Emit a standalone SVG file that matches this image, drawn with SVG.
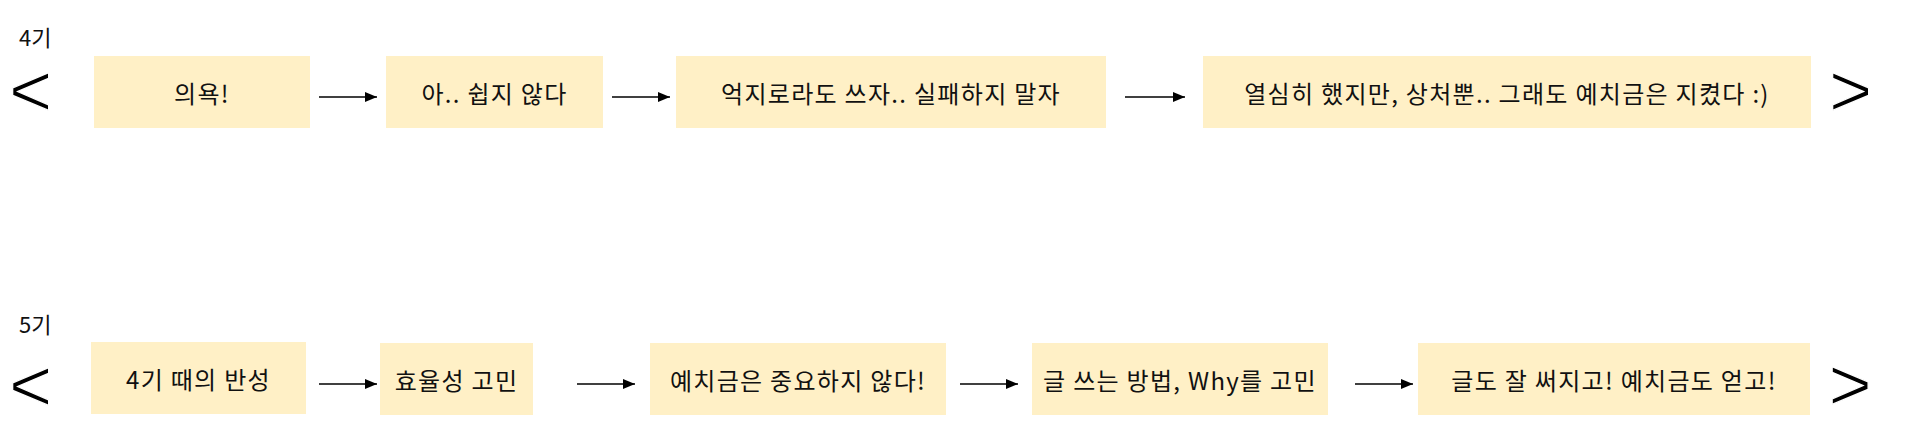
<svg xmlns="http://www.w3.org/2000/svg" width="1906" height="445" viewBox="0 0 1906 445">
<style>
.box{fill:#FFF0C6;}
.t{font-family:"Noto Sans CJK KR","Noto Sans",sans-serif;font-size:24px;letter-spacing:1.3px;fill:#111;text-anchor:middle;dominant-baseline:central;}
.lab{font-family:"Noto Sans CJK KR","Noto Sans",sans-serif;font-size:22px;fill:#111;}
.br{font-family:"Liberation Sans","Noto Sans",sans-serif;font-size:74px;fill:#000;stroke:#fff;stroke-width:1.2px;text-anchor:middle;}
.c{stroke:#000;stroke-width:1.7;fill:none;marker-end:url(#ah);}
</style>
<defs>
<marker id="ah" markerWidth="12" markerHeight="10" refX="12" refY="5" orient="auto" markerUnits="userSpaceOnUse">
<path d="M0,0 L12,5 L0,10 Z" fill="#000"/>
</marker>
</defs>
<g id="labels">
<text class="lab" x="19" y="46">4기</text>
<text class="lab" x="19" y="333">5기</text>
</g>
<g id="brackets">
<text class="br" x="30.5" y="116">&lt;</text>
<text class="br" x="1850.5" y="116">&gt;</text>
<text class="br" x="30.5" y="411">&lt;</text>
<text class="br" x="1850" y="410">&gt;</text>
</g>
<g id="n1"><rect class="box" x="94" y="56" width="216" height="72"/><text class="t" x="202" y="92">의욕!</text></g>
<g id="n2"><rect class="box" x="386" y="56" width="217" height="72"/><text class="t" x="494.5" y="92">아.. 쉽지 않다</text></g>
<g id="n3"><rect class="box" x="676" y="56" width="430" height="72"/><text class="t" x="891" y="92">억지로라도 쓰자.. 실패하지 말자</text></g>
<g id="n4"><rect class="box" x="1203" y="56" width="608" height="72"/><text class="t" x="1507" y="92">열심히 했지만, 상처뿐.. 그래도 예치금은 지켰다 :)</text></g>
<g id="m1"><rect class="box" x="91" y="342" width="215" height="72"/><text class="t" x="198.5" y="378">4기 때의 반성</text></g>
<g id="m2"><rect class="box" x="380" y="343" width="153" height="72"/><text class="t" x="456.5" y="379">효율성 고민</text></g>
<g id="m3"><rect class="box" x="650" y="343" width="296" height="72"/><text class="t" x="798" y="379">예치금은 중요하지 않다!</text></g>
<g id="m4"><rect class="box" x="1032" y="343" width="296" height="72"/><text class="t" x="1180" y="379">글 쓰는 방법, Why를 고민</text></g>
<g id="m5"><rect class="box" x="1418" y="343" width="392" height="72"/><text class="t" x="1614" y="379">글도 잘 써지고! 예치금도 얻고!</text></g>
<g id="connectors">
<line class="c" x1="319" y1="97" x2="377" y2="97"/>
<line class="c" x1="612" y1="97" x2="670" y2="97"/>
<line class="c" x1="1125" y1="97" x2="1185" y2="97"/>
<line class="c" x1="319" y1="384" x2="377" y2="384"/>
<line class="c" x1="577" y1="384" x2="635" y2="384"/>
<line class="c" x1="960" y1="384" x2="1018" y2="384"/>
<line class="c" x1="1355" y1="384" x2="1413" y2="384"/>
</g>
</svg>
